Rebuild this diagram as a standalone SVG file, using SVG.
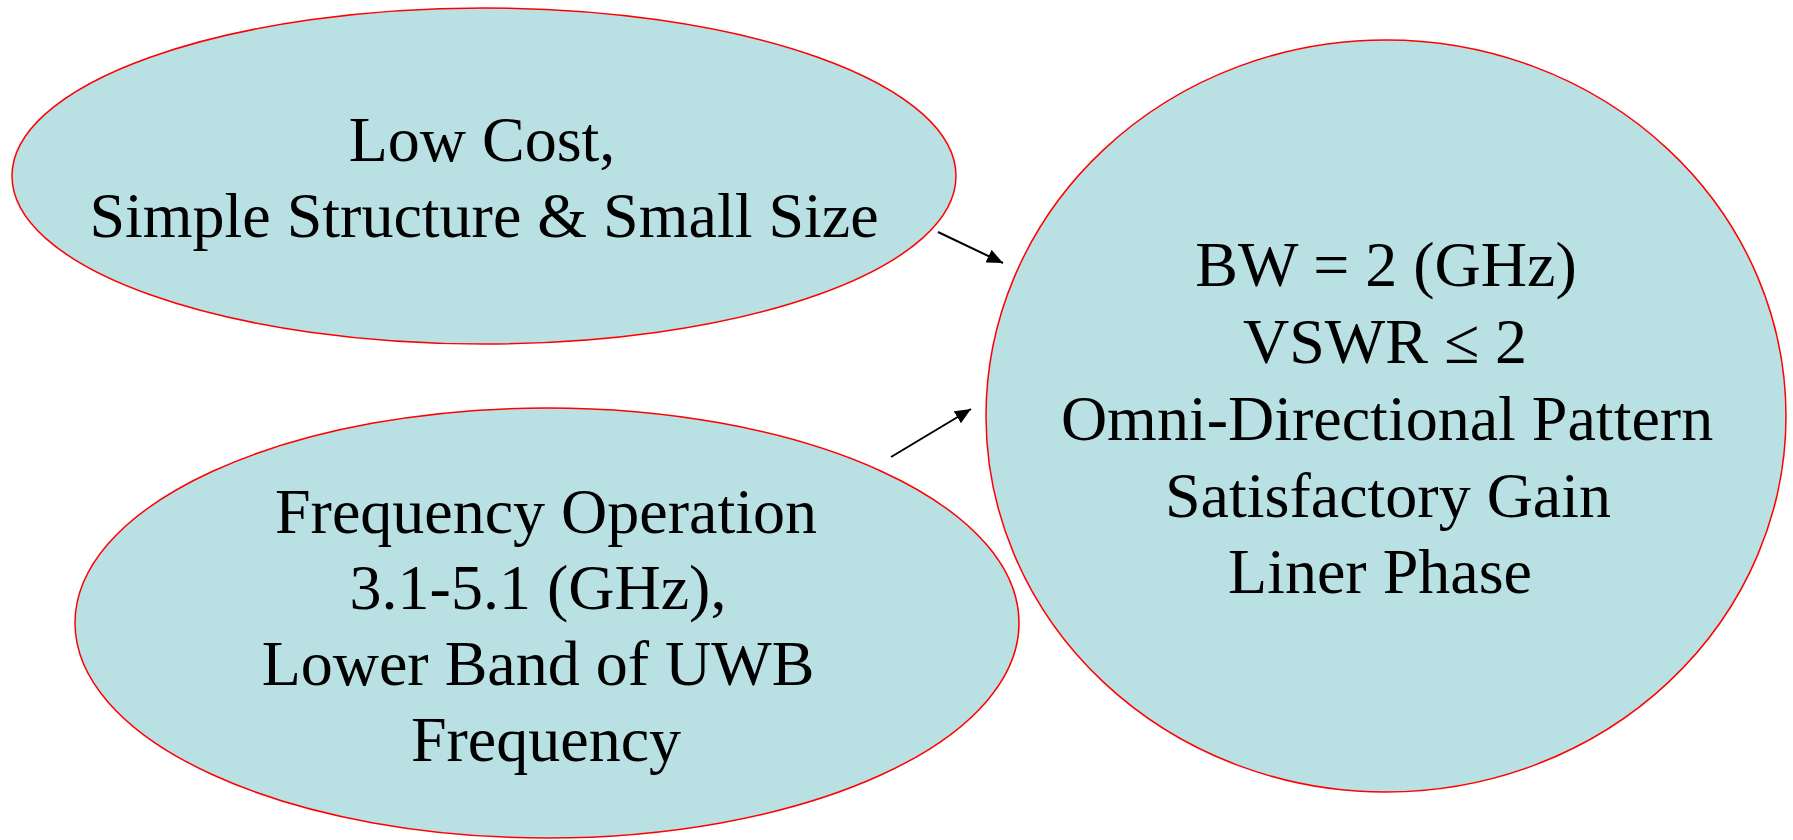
<svg xmlns="http://www.w3.org/2000/svg" width="1793" height="840" viewBox="0 0 1793 840">
<style>
.node{fill:#B9E0E3;stroke:#FF0000;stroke-width:1.5}
.lbl{font-family:"Liberation Serif","Times New Roman",serif;font-size:64px;fill:#000;text-anchor:middle}
.conn{stroke:#000;stroke-width:2;fill:none}
</style>
<defs>
<marker id="arr" markerWidth="16" markerHeight="14" refX="16" refY="7" orient="auto" markerUnits="userSpaceOnUse">
<path d="M0,0 L16,7 L0,14 Z" fill="#000"/>
</marker>
</defs>
<rect width="1793" height="840" fill="#fff"/>
<g id="node-cost">
<ellipse class="node" cx="484" cy="176" rx="472" ry="168"/>
<text class="lbl" x="482" y="161">Low Cost,</text>
<text class="lbl" x="484" y="237">Simple Structure &amp; Small Size</text>
</g>
<g id="node-freq">
<ellipse class="node" cx="547" cy="623" rx="472" ry="215"/>
<text class="lbl" x="546" y="533">Frequency Operation</text>
<text class="lbl" x="538" y="609">3.1-5.1 (GHz),</text>
<text class="lbl" x="538" y="685">Lower Band of UWB</text>
<text class="lbl" x="546" y="761">Frequency</text>
</g>
<g id="node-spec">
<ellipse class="node" cx="1386" cy="416" rx="400" ry="376"/>
<text class="lbl" x="1386" y="286">BW = 2 (GHz)</text>
<text class="lbl" x="1385" y="363">VSWR ≤ 2</text>
<text class="lbl" x="1387" y="440">Omni-Directional Pattern</text>
<text class="lbl" x="1388" y="517">Satisfactory Gain</text>
<text class="lbl" x="1380" y="593">Liner Phase</text>
</g>
<g id="connectors">
<line class="conn" x1="938" y1="232" x2="1003" y2="263" marker-end="url(#arr)"/>
<line class="conn" x1="891" y1="457" x2="971" y2="409" marker-end="url(#arr)"/>
</g>
</svg>
